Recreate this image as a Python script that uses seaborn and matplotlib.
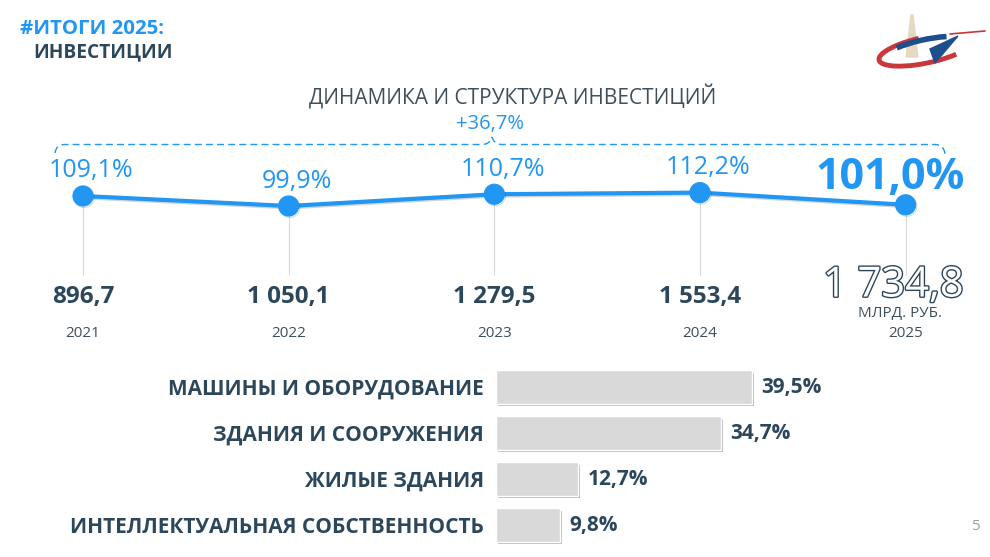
import matplotlib
matplotlib.use("Agg")
import matplotlib.pyplot as plt
import matplotlib.patheffects as pe
from matplotlib.path import Path
from matplotlib.patches import PathPatch, Arc, Polygon
from matplotlib.transforms import blended_transform_factory
import pandas as pd
import seaborn as sns

# данные
years = ["2021", "2022", "2023", "2024", "2025"]
growth = [109.1, 99.9, 110.7, 112.2, 101.0]
growth_labels = ["109,1%", "99,9%", "110,7%", "112,2%", "101,0%"]
volume_labels = ["896,7", "1 050,1", "1 279,5", "1 553,4", "1 734,8"]
total_growth = "+36,7%"

categories = ["МАШИНЫ И ОБОРУДОВАНИЕ", "ЗДАНИЯ И СООРУЖЕНИЯ",
              "ЖИЛЫЕ ЗДАНИЯ", "ИНТЕЛЛЕКТУАЛЬНАЯ СОБСТВЕННОСТЬ"]
shares = [39.5, 34.7, 12.7, 9.8]
share_labels = ["39,5%", "34,7%", "12,7%", "9,8%"]

BLUE = "#2196F3"
DARK = "#2C475C"
GREY_TXT = "#3F4F5B"

sns.set_theme(style="white")
plt.rcParams["font.family"] = ["Open Sans", "DejaVu Sans"]

W, H = 990, 557
fig = plt.figure(figsize=(9.9, 5.57), dpi=100)
fig.patch.set_facecolor("white")


def fx(px):
    return px / W


def fy(py):
    return 1 - py / H


# заголовок
fig.text(fx(20), fy(29), "#ИТОГИ 2025:", color=BLUE, fontsize=14.7,
         fontweight="bold", va="center", ha="left")
fig.text(fx(33), fy(52), "ИНВЕСТИЦИИ", color=DARK, fontsize=13.8,
         fontweight="bold", va="center", ha="left")
fig.text(fx(513), fy(97), "ДИНАМИКА И СТРУКТУРА ИНВЕСТИЦИЙ", color=GREY_TXT,
         fontsize=15, va="center", ha="center")
fig.text(fx(490), fy(124), total_growth, color=BLUE, fontsize=14.5,
         va="center", ha="center")
fig.text(fx(975), fy(527), "5", color="#A0A0A0", fontsize=11,
         va="center", ha="center")

# пунктирная скобка
pts = [(55, 153), (56, 144.5), (65, 144.5), (482, 144.5), (490, 144.5),
       (492, 137), (494, 144.5), (502, 144.5), (935, 144.5), (944, 144.5),
       (945, 154)]
codes = [Path.MOVETO, Path.CURVE3, Path.CURVE3, Path.LINETO, Path.CURVE3,
         Path.CURVE3, Path.CURVE3, Path.CURVE3, Path.LINETO, Path.CURVE3,
         Path.CURVE3]
brace = Path([(fx(x), fy(y)) for x, y in pts], codes)
fig.patches.append(PathPatch(brace, transform=fig.transFigure, fill=False,
                             edgecolor=BLUE, lw=1, linestyle=(0, (5, 3))))

# линия динамики
ax = fig.add_axes([fx(21.3), fy(345), 946 / W, 205 / H])
df = pd.DataFrame({"idx": range(len(years)), "growth": growth})
ax.vlines(df["idx"], 36.6, df["growth"], color="#D8D8D8", lw=0.8, zorder=1)
sns.lineplot(data=df, x="idx", y="growth", ax=ax, color=BLUE, lw=3,
             marker="o", markersize=14.5, markeredgecolor=BLUE, zorder=3)
for ln in ax.lines:
    ln.set_path_effects([pe.SimpleLineShadow(offset=(0.8, -1.0), alpha=0.18),
                         pe.Normal()])
ax.set_xlim(-0.3, 4.3)
ax.set_ylim(-27.6, 160.45)
ax.axis("off")

tr = blended_transform_factory(ax.transData, ax.transAxes)
n = len(years)
for i in range(n):
    last = i == n - 1
    ax.annotate(growth_labels[i], (i, growth[i]), textcoords="offset points",
                xytext=(-11, 19.5) if last else (6, 18),
                ha="center", va="center", color=BLUE,
                fontsize=31 if last else 18,
                fontweight="bold" if last else "normal")
    if last:
        ax.text(i - 0.06, 0.29, volume_labels[i], transform=tr, ha="center",
                va="center", fontsize=30, color="white",
                path_effects=[pe.Stroke(linewidth=2.0, foreground=DARK),
                              pe.Normal()])
        ax.text(i - 0.025, 0.152, "МЛРД. РУБ.", transform=tr, ha="center",
                va="center", fontsize=11, color=GREY_TXT)
    else:
        ax.text(i, 0.234, volume_labels[i], transform=tr, ha="center",
                va="center", fontsize=17.5, fontweight="bold", color=DARK)
    ax.text(i, 0.0585, years[i], transform=tr, ha="center", va="center",
            fontsize=11, color=GREY_TXT)

# структура
ax2 = fig.add_axes([fx(496), fy(548), 291.6 / W, 184 / H])
dfb = pd.DataFrame({"cat": categories, "share": shares})
sns.barplot(data=dfb, x="share", y="cat", orient="h", color="#D9D9D9",
            saturation=1, width=0.72, ax=ax2)
for p in ax2.patches:
    p.set_path_effects([pe.SimplePatchShadow(offset=(1.5, -1.5),
                                             shadow_rgbFace="#8C8C8C",
                                             alpha=0.6),
                        pe.Normal()])
ax2.bar_label(ax2.containers[0], labels=share_labels, padding=7,
              fontsize=15, fontweight="bold", color=DARK)
ax2.set_xlim(0, 45)
ax2.set_xlabel("")
ax2.set_ylabel("")
ax2.set_xticks([])
ax2.tick_params(axis="y", length=0, pad=8.6)
for t in ax2.get_yticklabels():
    t.set_fontsize(15)
    t.set_fontweight("bold")
    t.set_color(DARK)
sns.despine(ax=ax2, left=True, bottom=True)

# логотип
axl = fig.add_axes([fx(870), fy(75), 120 / W, 65 / H])
axl.set_xlim(870, 990)
axl.set_ylim(75, 10)
axl.axis("off")
axl.add_patch(Polygon([(911, 15), (913, 15), (918, 57), (906, 57)],
                      closed=True, color="#E6D9C3", zorder=1))
axl.add_patch(Arc((926, 50), 96, 26, angle=-12, theta1=20, theta2=250,
                  color="#C8373A", lw=3.5, zorder=2))
axl.add_patch(Arc((926, 52), 94, 25, angle=-12, theta1=200, theta2=335,
                  color="#1F4E8C", lw=4, zorder=3))
axl.add_patch(Polygon([(958, 36), (935, 63), (930, 49)], closed=True,
                      color="#1F4E8C", zorder=3))
axl.plot([950, 985], [34, 31], color="#C8373A", lw=1.2)

fig.savefig("out.png", dpi=100, facecolor="white")
